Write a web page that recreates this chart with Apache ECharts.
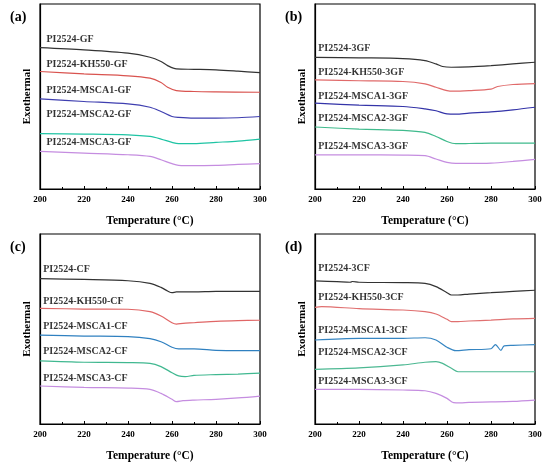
<!DOCTYPE html>
<html>
<head>
<meta charset="utf-8">
<script src="https://cdn.jsdelivr.net/npm/echarts@6/dist/echarts.min.js"></script>
<style>html,body{margin:0;padding:0;background:#fff}#c{width:550px;height:467px}</style>
</head>
<body>
<div id="c"></div>
<script>
// x ticks
const xTicks = [200, 220, 240, 260, 280, 300];
const panelLetters = ['(a)', '(b)', '(c)', '(d)'];

// Panel (a) curves: [temperature, relative heat flow]
const a1 = [[200,76.4],[220,75.2],[240,73.4],[250,71.2],[255,68.9],[258,66.7],[262,64.9],[270,64.7],[280,64.4],[290,63.7],[300,62.9]];
const a2 = [[200,63.5],[220,62.2],[240,61.2],[250,59.9],[255,57.6],[258,55.0],[262,53.2],[270,52.7],[280,52.5],[300,52.3]];
const a3 = [[200,48.7],[220,47.3],[240,46.0],[250,44.2],[255,41.9],[260,39.2],[263,38.7],[270,38.3],[280,38.3],[290,38.5],[300,39.2]];
const a4 = [[200,29.9],[220,29.7],[240,29.3],[250,28.4],[255,27.0],[260,25.2],[263,24.5],[270,24.5],[280,25.2],[290,25.9],[300,27.0]];
const a5 = [[200,20.3],[220,19.4],[240,18.5],[250,17.6],[255,15.8],[260,13.7],[263,12.8],[270,12.6],[280,12.8],[290,13.3],[300,13.7]];
const aNames = ['PI2524-GF','PI2524-KH550-GF','PI2524-MSCA1-GF','PI2524-MSCA2-GF','PI2524-MSCA3-GF'];
const aLabelY = [80.6, 67.4, 53.2, 40.5, 25.2];

// Panel (b)
const b1 = [[200,71.2],[220,70.9],[240,70.5],[250,69.4],[255,67.6],[258,66.2],[262,65.8],[270,66.0],[280,66.7],[290,67.6],[300,68.5]];
const b2 = [[200,59.0],[220,58.5],[240,58.1],[250,56.8],[255,55.0],[260,53.2],[263,52.9],[270,53.2],[280,54.0],[283,55.4],[290,56.5],[300,57.0]];
const b3 = [[200,46.4],[220,45.3],[240,44.6],[250,43.3],[255,42.3],[260,40.6],[264,40.5],[270,41.0],[280,41.7],[290,42.8],[300,44.2]];
const b4 = [[200,33.5],[220,32.4],[240,31.7],[250,30.6],[255,28.4],[260,25.7],[264,24.5],[270,24.6],[280,24.8],[300,24.8]];
const b5 = [[200,18.5],[220,18.5],[240,18.3],[250,18.0],[255,16.2],[260,14.4],[264,13.8],[270,13.8],[280,14.0],[290,14.9],[300,16.0]];
const bNames = ['PI2524-3GF','PI2524-KH550-3GF','PI2524-MSCA1-3GF','PI2524-MSCA2-3GF','PI2524-MSCA3-3GF'];
const bLabelY = [75.9, 63.0, 50.0, 37.9, 23.0];

// Panel (c)
const c1 = [[200,76.5],[220,76.1],[240,75.4],[250,74.0],[255,71.9],[258,70.0],[260,69.1],[262,69.5],[270,69.5],[280,69.8],[300,69.8]];
const c2 = [[200,60.9],[220,60.5],[240,60.4],[250,59.1],[255,56.8],[260,53.3],[262,52.6],[265,53.0],[270,53.3],[280,54.0],[290,54.4],[300,54.6]];
const c3 = [[200,46.8],[220,46.3],[240,46.0],[250,44.9],[255,43.3],[260,40.4],[263,39.5],[270,39.5],[280,38.8],[290,38.6],[300,38.6]];
const c4 = [[200,33.2],[220,32.5],[240,32.3],[250,31.9],[255,30.2],[260,27.0],[263,25.3],[266,24.9],[270,25.6],[280,26.0],[290,26.3],[300,26.8]];
const c5 = [[200,20.0],[220,19.3],[240,18.9],[250,18.2],[255,16.1],[260,13.0],[262,11.8],[265,12.3],[270,12.6],[280,13.0],[290,13.7],[300,14.7]];
const cNames = ['PI2524-CF','PI2524-KH550-CF','PI2524-MSCA1-CF','PI2524-MSCA2-CF','PI2524-MSCA3-CF'];
const cLabelY = [81.1, 64.4, 51.4, 38.1, 24.0];

// Panel (d)
const d1 = [[200,75.3],[210,74.9],[216,74.6],[217,75.0],[220,74.6],[240,74.4],[250,74.0],[255,72.3],[260,69.1],[262,67.9],[265,67.9],[270,68.4],[280,69.1],[290,69.8],[300,70.4]];
const d2 = [[200,61.4],[203,61.8],[220,60.7],[240,60.0],[250,59.1],[255,57.9],[260,55.1],[262,53.9],[265,53.9],[270,54.2],[280,54.7],[290,55.3],[300,55.6]];
const d3 = [[200,44.2],[220,45.1],[240,45.1],[250,45.4],[255,44.2],[260,40.4],[264,38.6],[270,39.1],[280,39.6],[282,41.8],[284.5,38.8],[286,41.1],[290,41.4],[300,41.8]];
const d4 = [[200,28.8],[220,29.5],[240,31.1],[250,32.5],[255,32.8],[258,31.9],[262,29.3],[265,27.5],[270,27.5],[280,27.5],[300,27.5]];
const d5 = [[200,18.2],[220,18.2],[240,17.9],[250,17.5],[255,16.1],[260,13.5],[263,11.2],[266,11.1],[270,11.4],[280,11.6],[290,11.9],[300,12.6]];
const dNames = ['PI2524-3CF','PI2524-KH550-3CF','PI2524-MSCA1-3CF','PI2524-MSCA2-3CF','PI2524-MSCA3-3CF'];
const dLabelY = [81.9, 66.5, 49.5, 37.5, 22.6];

const labelXs = [202.7, 201.2, 201.2, 201.2];

const colorsA = ['#333333','#d9534f','#3f3fb0','#1fc4a4','#c58de0'];
const colorsB = ['#333333','#e06a6a','#3434a8','#3fba8c','#c58de0'];
const colorsC = ['#333333','#e06666','#2f80c0','#40b890','#c58de0'];
const colorsD = ['#333333','#e07070','#3585c2','#4cb892','#c58de0'];

const panels = [
  {curves:[a1,a2,a3,a4,a5], names:aNames, ly:aLabelY, colors:colorsA, grid:{left:40, top:4, width:220, height:185}},
  {curves:[b1,b2,b3,b4,b5], names:bNames, ly:bLabelY, colors:colorsB, grid:{left:315, top:4, width:220, height:185}},
  {curves:[c1,c2,c3,c4,c5], names:cNames, ly:cLabelY, colors:colorsC, grid:{left:40, top:234, width:220, height:190}},
  {curves:[d1,d2,d3,d4,d5], names:dNames, ly:dLabelY, colors:colorsD, grid:{left:315, top:234, width:220, height:190}}
];

const serif = 'Liberation Serif';
const grids = [], xAxes = [], yAxes = [], series = [], titles = [];
panels.forEach((p, i) => {
  grids.push(Object.assign({show:true, borderColor:'#000', borderWidth:1.2, backgroundColor:'transparent', containLabel:false}, p.grid));
  xAxes.push({
    type:'value', gridIndex:i, min:xTicks[0], max:xTicks[xTicks.length-1], interval:20,
    name:'Temperature (°C)', nameLocation:'middle', nameGap:26,
    nameTextStyle:{fontFamily:serif, fontWeight:'bold', fontSize:11.5, color:'#000'},
    axisLine:{show:true, lineStyle:{color:'#000', width:1.2}},
    axisTick:{show:true, inside:true, length:3, lineStyle:{color:'#000'}},
    minorTick:{show:true, splitNumber:2, length:2, lineStyle:{color:'#000'}},
    axisLabel:{fontFamily:serif, fontWeight:'bold', fontSize:9, color:'#000', margin:6},
    splitLine:{show:false}
  });
  yAxes.push({
    type:'value', gridIndex:i, min:0, max:100,
    name:'Exothermal', nameLocation:'middle', nameGap:7, nameRotate:90,
    nameTextStyle:{fontFamily:serif, fontWeight:'bold', fontSize:11, color:'#000'},
    axisLine:{show:true, lineStyle:{color:'#000', width:1.2}},
    axisTick:{show:false}, axisLabel:{show:false}, splitLine:{show:false}
  });
  p.curves.forEach((c, k) => {
    series.push({
      type:'line', xAxisIndex:i, yAxisIndex:i, data:c, showSymbol:false, smooth:0.3,
      lineStyle:{color:p.colors[k], width:1.2}, itemStyle:{color:p.colors[k]}, silent:true
    });
  });
  series.push({
    type:'scatter', xAxisIndex:i, yAxisIndex:i, symbolSize:1, silent:true,
    itemStyle:{color:'rgba(0,0,0,0)'},
    data:p.names.map((n, k) => [labelXs[i], p.ly[k], n]),
    label:{show:true, position:'right', distance:0, formatter:q => q.value[2],
      fontFamily:serif, fontWeight:'bold', fontSize:10, color:'#000'}
  });
  titles.push({text:panelLetters[i], left:p.grid.left - 35, top:p.grid.top + 1,
    textStyle:{fontFamily:serif, fontWeight:'bold', fontSize:14, color:'#000'}});
});

const chart = echarts.init(document.getElementById('c'), null, {renderer:'canvas'});
chart.setOption({animation:false, title:titles, grid:grids, xAxis:xAxes, yAxis:yAxes, series:series});
</script>
</body>
</html>
